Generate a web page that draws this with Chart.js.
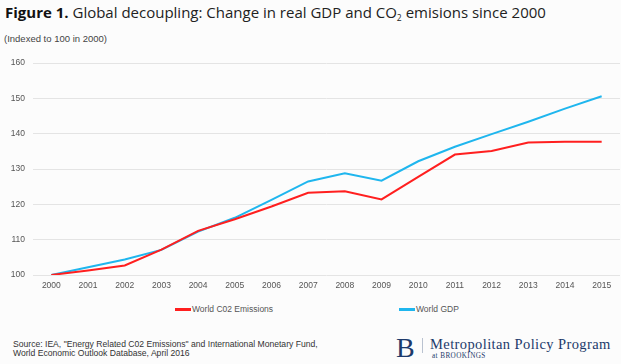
<!DOCTYPE html>
<html>
<head>
<meta charset="utf-8">
<script src="https://cdn.jsdelivr.net/npm/chart.js@4.4.1/dist/chart.umd.min.js"></script>
<style>
    body { margin: 0; width: 621px; height: 364px; background: #fcfcfc; position: relative; overflow: hidden; font-family: "Liberation Sans", Arial, sans-serif; }
    #title { position: absolute; left: 5px; top: 2px; font-family: "Open Sans", sans-serif; font-size: 15px; color: #222; white-space: nowrap; }
    #title b { color: #111; }
    #title sub { font-size: 8.5px; vertical-align: -3px; line-height: 0; }
    #subtitle { position: absolute; left: 4px; top: 33px; font-size: 9.5px; color: #444; white-space: nowrap; }
    #chart-wrap { position: absolute; left: 0; top: 50px; width: 621px; height: 250px; }
    .legend-item { position: absolute; top: 303px; font-size: 8.5px; color: #555; white-space: nowrap; line-height: 12px; }
    .legend-item span { display: inline-block; width: 16px; height: 2.5px; vertical-align: middle; margin-right: 1px; margin-top: -1px; }
    #source { position: absolute; left: 13px; top: 340px; font-size: 8.6px; line-height: 9px; color: #333; white-space: nowrap; }
    #logo-b { position: absolute; left: 396px; top: 333px; font-family: "Liberation Serif", serif; font-size: 28px; color: #1d3a6b; line-height: 30px; }
    #logo-sep { position: absolute; left: 422px; top: 338px; width: 1px; height: 15px; background: #b9c2d0; }
    #logo-name { position: absolute; left: 430px; top: 336px; font-family: "Liberation Serif", serif; font-size: 14.5px; letter-spacing: 0.4px; color: #1d3a6b; white-space: nowrap; line-height: 16px; }
    #logo-sub { position: absolute; left: 432px; top: 352px; font-family: "Liberation Serif", serif; font-size: 7.2px; color: #1d3a6b; white-space: nowrap; letter-spacing: 0.4px; }
</style>
</head>
<body>
<div id="title"><b>Figure 1.</b> Global decoupling: Change in real GDP and CO<sub>2</sub> emisions since 2000</div>
<div id="subtitle">(Indexed to 100 in 2000)</div>
<div id="chart-wrap"><canvas id="decoupling-chart"></canvas></div>
<div id="legend"></div>
<div id="source">Source: IEA, "Energy Related C02 Emissions" and International Monetary Fund,<br>World Economic Outlook Database, April 2016</div>
<div id="logo-b">B</div>
<div id="logo-sep"></div>
<div id="logo-name">Metropolitan Policy Program</div>
<div id="logo-sub">at BROOKINGS</div>

<script>
let chartCanvas = document.getElementById("decoupling-chart");
let decouplingChart;

let yearLabels = ["2000", "2001", "2002", "2003", "2004", "2005", "2006", "2007",
    "2008", "2009", "2010", "2011", "2012", "2013", "2014", "2015"];
let co2Emissions = [100, 101.3, 102.7, 107.2, 112.5, 115.8, 119.4, 123.3,
    123.7, 121.4, 127.8, 134.1, 135.1, 137.5, 137.7, 137.7];
let worldGdp = [100, 102.2, 104.4, 107.1, 112.3, 116.2, 121.3, 126.5,
    128.8, 126.7, 132.2, 136.3, 139.9, 143.4, 147.1, 150.6];
let yTicks = [100, 110, 120, 130, 140, 150, 160];

let seriesNames = ["World C02 Emissions", "World GDP"];
let seriesColors = ["#ff1f1f", "#1fb6ee"];
let legendLeft = [175, 399];

function initializeDecouplingChart() {
    if (!chartCanvas) {
        return;
    }

    decouplingChart = new Chart(chartCanvas, {
        type: "line",
        data: {
            labels: yearLabels,
            datasets: [
                {
                    label: seriesNames[0],
                    data: co2Emissions,
                    borderColor: seriesColors[0],
                    borderWidth: 2,
                    pointRadius: 0,
                    tension: 0,
                },
                {
                    label: seriesNames[1],
                    data: worldGdp,
                    borderColor: seriesColors[1],
                    borderWidth: 2,
                    pointRadius: 0,
                    tension: 0,
                },
            ],
        },
        options: {
            animation: false,
            responsive: true,
            maintainAspectRatio: false,
            layout: {
                padding: { top: 12, right: 1, left: 0, bottom: 0 },
            },
            scales: {
                x: {
                    offset: true,
                    grid: { display: false, drawTicks: false },
                    border: { display: false },
                    ticks: {
                        color: "#555",
                        padding: 6,
                        maxRotation: 0,
                        font: { family: "Liberation Sans", size: 8.5 },
                    },
                    afterFit: (scale) => { scale.height = 25; },
                },
                y: {
                    min: 100,
                    max: 160,
                    afterBuildTicks: (scale) => {
                        scale.ticks = yTicks.map((v) => ({ value: v }));
                    },
                    grid: { color: "#e4e4e4", lineWidth: 1, drawTicks: false },
                    border: { display: false },
                    ticks: {
                        color: "#555",
                        padding: 8,
                        font: { family: "Liberation Sans", size: 8.5 },
                    },
                    afterFit: (scale) => { scale.width = 33; },
                },
            },
            plugins: {
                legend: { display: false },
                tooltip: { enabled: false },
            },
        },
    });
}

function buildLegend() {
    let legendBox = document.getElementById("legend");
    decouplingChart.data.datasets.forEach((ds, i) => {
        let item = document.createElement("div");
        item.className = "legend-item";
        item.style.left = legendLeft[i] + "px";
        item.innerHTML = '<span style="background:' + ds.borderColor + '"></span>' + ds.label;
        legendBox.appendChild(item);
    });
}

initializeDecouplingChart();
buildLegend();
</script>
</body>
</html>
